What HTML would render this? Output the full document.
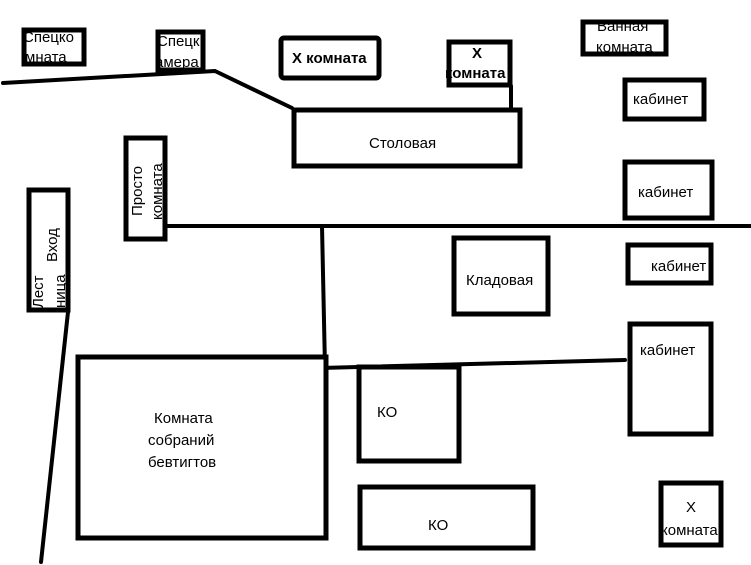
<!DOCTYPE html>
<html><head><meta charset="utf-8"><style>
html,body{margin:0;padding:0;background:#fff;width:751px;height:565px;overflow:hidden}
svg{display:block}
text{font-family:"Liberation Sans","DejaVu Sans",sans-serif;font-size:15px;fill:#000}
.b{font-weight:bold}
</style></head><body>
<svg width="751" height="565" viewBox="0 0 751 565">
<g fill="none" stroke="#000" stroke-width="4" stroke-linecap="round" stroke-linejoin="round">
<polyline points="3,83 215,71 292,108"/>
<line x1="167" y1="226" x2="751" y2="226"/>
<line x1="322" y1="226" x2="325" y2="368"/>
<line x1="320" y1="368" x2="625" y2="360"/>
<line x1="68" y1="312" x2="41" y2="562"/>
<line x1="511" y1="86" x2="511" y2="112"/>
</g>
<g fill="#fff" stroke="#000" stroke-width="5">
<rect x="24" y="30" width="60" height="34"/>
<rect x="158" y="32" width="45" height="38"/>
<rect x="281" y="38" width="98" height="40" rx="3"/>
<rect x="449" y="42" width="61" height="43"/>
<rect x="583" y="22" width="83" height="32"/>
<rect x="625" y="80" width="79" height="39"/>
<rect x="294" y="110" width="226" height="56"/>
<rect x="625" y="162" width="87" height="56"/>
<rect x="126" y="138" width="39" height="101"/>
<rect x="29" y="190" width="39" height="120"/>
<rect x="454" y="238" width="94" height="76"/>
<rect x="628" y="245" width="83" height="38"/>
<rect x="630" y="324" width="81" height="110"/>
<rect x="78" y="357" width="248" height="181"/>
<rect x="359" y="367" width="100" height="94"/>
<rect x="360" y="487" width="173" height="61"/>
<rect x="661" y="483" width="60" height="62"/>
</g>
<text x="23" y="42">Спецко</text>
<text x="25" y="62">мната</text>
<text x="157" y="46">Спецк</text>
<text x="155" y="67">амера</text>
<text x="292" y="63" class="b">Х комната</text>
<text x="472" y="58" class="b">Х</text>
<text x="445" y="78" class="b">комната</text>
<text x="597" y="31">Ванная</text>
<text x="596" y="52">комната</text>
<text x="633" y="104">кабинет</text>
<text x="369" y="148">Столовая</text>
<text x="638" y="197">кабинет</text>
<text x="651" y="271">кабинет</text>
<text x="640" y="355">кабинет</text>
<text x="466" y="285">Кладовая</text>
<text x="154" y="423">Комната</text>
<text x="148" y="445">собраний</text>
<text x="148" y="467">бевтигтов</text>
<text x="377" y="417">КО</text>
<text x="428" y="530">КО</text>
<text x="686" y="512">Х</text>
<text x="661" y="535">комната</text>
<text transform="translate(142,216) rotate(-90)">Просто</text>
<text transform="translate(162,220) rotate(-90)">комната</text>
<text transform="translate(57,262) rotate(-90)">Вход</text>
<text transform="translate(43,308) rotate(-90)">Лест</text>
<text transform="translate(65,308) rotate(-90)">ница</text>
</svg>
</body></html>
